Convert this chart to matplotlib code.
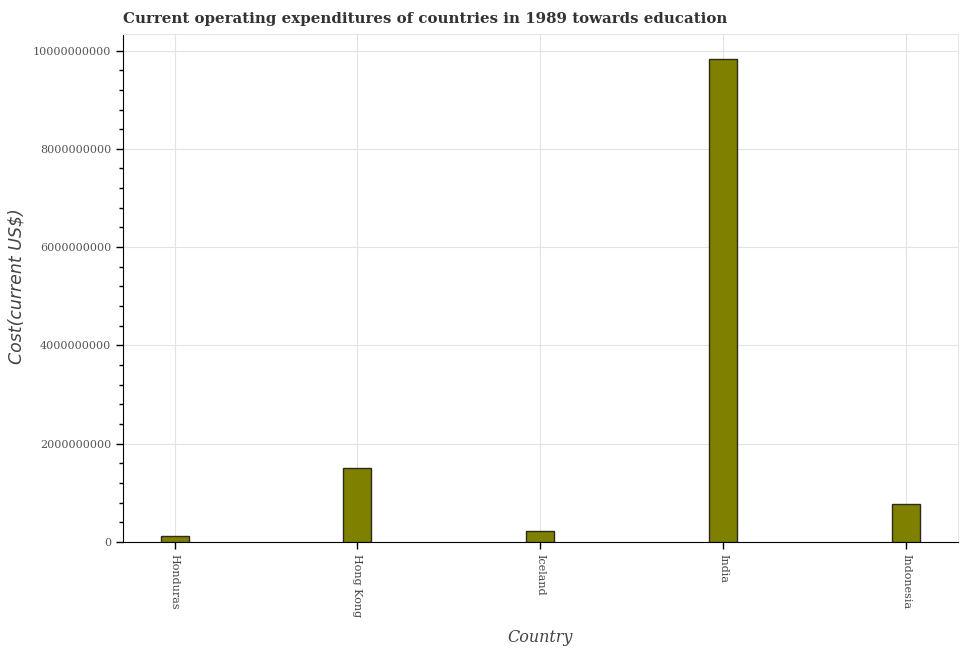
import numpy as np
import matplotlib
matplotlib.use("Agg")
from matplotlib import pyplot as plt
from matplotlib.ticker import MultipleLocator

countries = ["Honduras", "Hong Kong", "Iceland", "India", "Indonesia"]
cost = [1.30e8, 1.505e9, 2.24e8, 9.83e9, 7.73e8]

fig = plt.figure(figsize=(9.62, 6.5), dpi=100)
ax = fig.add_axes([0.128, 0.166, 0.868, 0.782])

x = np.arange(len(countries))
ax.bar(x, cost, width=0.153, color="#808000", edgecolor="#2b2b1a", linewidth=1, zorder=3)

ax.set_xlim(-0.281, 4.284)
ax.set_ylim(0, 1.034e10)
ax.set_xticks(x)
ax.set_xticklabels(countries, rotation=270, family="DejaVu Serif", fontsize=8, color="#444444")
ax.yaxis.set_major_locator(MultipleLocator(2e9))
ax.yaxis.set_minor_locator(MultipleLocator(4e8))
ax.ticklabel_format(axis="y", style="plain", useOffset=False)
for t in ax.get_yticklabels():
    t.set_family("DejaVu Serif")
    t.set_fontsize(8)
    t.set_color("#555555")

ax.tick_params(axis="both", which="major", direction="out", length=5, width=1, color="black")
ax.tick_params(axis="y", which="minor", direction="out", length=3, width=1, color="black")
ax.grid(True, which="major", color="#e3e3e3", linewidth=0.8, zorder=0)

ax.spines["left"].set_color("black")
ax.spines["bottom"].set_color("black")
ax.spines["top"].set_color("#e6e6e6")
ax.spines["right"].set_color("#e6e6e6")

# axis titles placed by hand to match the reference
fig.text(17 / 962, 1 - 286 / 650, "Cost(current US$)", fontsize=12.5, style="italic",
         color="#444444", rotation=90, ha="center", va="center")
fig.text(540 / 962, 1 - 638 / 650, "Country", fontsize=11.5, style="italic",
         family="DejaVu Serif", color="#444444", ha="center", va="center")

fig.text(0.128, 0.97, "Current operating expenditures of countries in 1989 towards education",
         fontsize=10.8, fontweight="bold", family="DejaVu Serif", color="#333333", va="center", ha="left")

fig.savefig("out.png", dpi=100)
